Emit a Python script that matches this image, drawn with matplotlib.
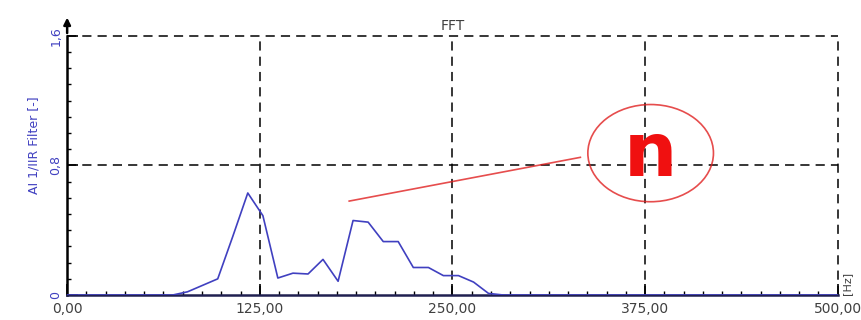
import numpy as np
import matplotlib.pyplot as plt
from matplotlib.patches import Ellipse

# FFT spectrum
freq = [0, 68.4, 78.1, 97.7, 107.4, 117.2, 127.0, 136.7, 146.5, 156.3, 166.0,
        175.8, 185.5, 195.3, 205.1, 214.8, 224.6, 234.4, 244.1, 253.9, 263.7,
        273.4, 283.2, 500]
amp = [0, 0, 0.02, 0.10, 0.36, 0.63, 0.49, 0.105, 0.135, 0.13, 0.22,
       0.085, 0.46, 0.45, 0.33, 0.33, 0.17, 0.17, 0.12, 0.12, 0.08,
       0.01, 0, 0]

xticks = [0, 125, 250, 375, 500]
xlabels = ["0,00", "125,00", "250,00", "375,00", "500,00"]
yticks = [0, 0.8, 1.6]
ylabels = ["0", "0,8", "1,6"]

blue = "#4040c0"
red = "#e02020"

fig = plt.figure(figsize=(8.61, 3.2), dpi=100)
ax = fig.add_axes([0.078, 0.078, 0.895, 0.81])

ax.plot(freq, amp, color=blue, lw=1.2, zorder=3)
ax.set_xlim(0, 500)
ax.set_ylim(0, 1.6)

# dashed grid
for x in xticks[1:]:
    ax.axvline(x, color="black", ls=(0, (6, 4)), lw=1.1, zorder=1, clip_on=False)
for y in yticks[1:]:
    ax.axhline(y, color="black", ls=(0, (6, 4)), lw=1.1, zorder=1, clip_on=False)

for s in ["top", "right"]:
    ax.spines[s].set_visible(False)
ax.spines["left"].set_linewidth(1.8)
ax.spines["bottom"].set_linewidth(1.8)
ax.spines["bottom"].set_color("#202050")

# arrow on y axis
ax.annotate("", xy=(0, 1.73), xytext=(0, 1.6), xycoords="data",
            arrowprops=dict(arrowstyle="-|>", color="black", lw=1.8,
                            mutation_scale=10),
            annotation_clip=False)

ax.set_xticks(xticks)
ax.set_xticklabels(xlabels, fontsize=10, color="#404040")
ax.set_yticks(yticks)
ax.set_yticklabels(ylabels, fontsize=9, color=blue, rotation=90, va="center")
ax.set_xticks(np.arange(0, 501, 12.5), minor=True)
ax.set_yticks(np.arange(0, 1.61, 0.1), minor=True)
ax.tick_params(axis="both", which="major", direction="in", length=8, width=1.2)
ax.tick_params(axis="both", which="minor", direction="in", length=3, width=1)
ax.tick_params(axis="x", pad=5)

ax.set_ylabel("AI 1/IIR Filter [-]", color=blue, fontsize=9, labelpad=2)
ax.yaxis.set_label_coords(-0.035, 0.58)
ax.text(1.005, 0.0, "[Hz]", transform=ax.transAxes, rotation=90,
        fontsize=8, color="#404040", va="bottom", ha="left")
ax.text(0.5, 1.01, "FFT", transform=ax.transAxes, ha="center", va="bottom",
        fontsize=10, color="#404040")

# red annotation
ax.plot([183, 333], [0.58, 0.85], color=red, lw=1.2, alpha=0.8, zorder=4)
ax.add_patch(Ellipse((378.6, 0.876), 81.5, 0.6, fill=False, edgecolor=red,
                     lw=1.2, alpha=0.8, zorder=4))
ax.text(378.6, 0.86, "n", color="#f01010", fontsize=54, fontweight="bold",
        ha="center", va="center", zorder=5)

fig.savefig("out.png", dpi=100)
